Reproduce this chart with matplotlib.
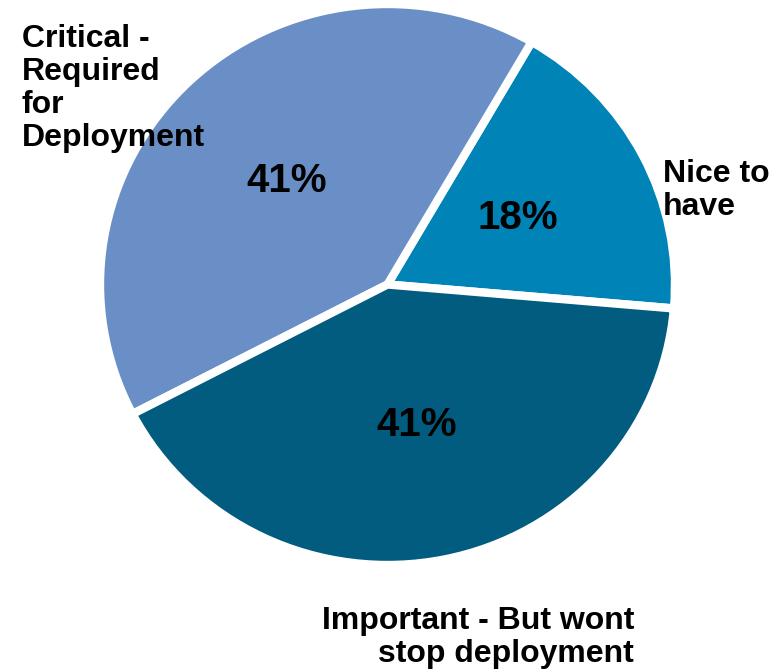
import matplotlib.pyplot as plt

# dados
categorias = ['Nice to have', 'Critical - Required for Deployment',
              'Important - But wont stop deployment']
valores = [18, 41, 41]
cores = ['#0083B7', '#6A8FC6', '#025C80']

plt.rcParams['font.family'] = ['Liberation Sans', 'DejaVu Sans']

fig = plt.figure(figsize=(7.82, 6.72), dpi=100)
ax = fig.add_axes([100 / 782, 107 / 672, 575 / 782, 561 / 672])

wedges, textos, pcts = ax.pie(valores, colors=cores, startangle=-4.9,
                              autopct='%1.0f%%', pctdistance=0.51,
                              wedgeprops=dict(edgecolor='white', linewidth=6))
for t in pcts:
    t.set_fontsize(29)
    t.set_fontweight('bold')
    t.set_color('black')
ax.set_xlim(-1, 1)
ax.set_ylim(-1, 1)
ax.set_aspect('auto')

# rótulos externos
estilo = dict(fontsize=23, fontweight='bold', linespacing=1.13, va='baseline')
fig.text(22 / 782, 1 - 146 / 672, 'Critical -\nRequired\nfor\nDeployment',
         ha='left', **estilo)
fig.text(663 / 782, 1 - 215 / 672, 'Nice to\nhave', ha='left', **estilo)
fig.text(634 / 782, 1 - 662 / 672, 'Important - But wont\nstop deployment',
         ha='right', multialignment='right', **estilo)

plt.savefig('out.png', dpi=100)
